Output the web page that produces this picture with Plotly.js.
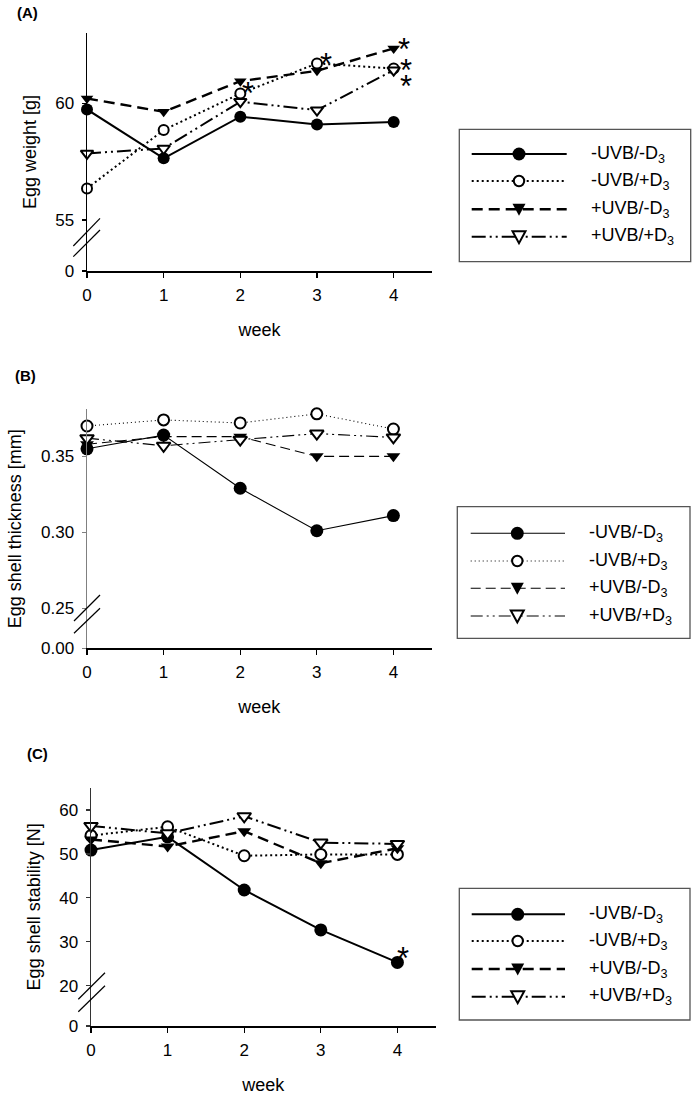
<!DOCTYPE html>
<html><head><meta charset="utf-8">
<script src="https://cdn.plot.ly/plotly-3.0.1.min.js"></script>
<style>html,body{margin:0;padding:0;background:#fff;} #chart{width:697px;height:1098px;}</style>
</head><body><div id="chart"></div>
<script>
// ---------- data ----------
const weeks = [0, 1, 2, 3, 4];
const seriesNames = ['-UVB/-D<sub>3</sub>', '-UVB/+D<sub>3</sub>', '+UVB/-D<sub>3</sub>', '+UVB/+D<sub>3</sub>'];

// (A) Egg weight [g]
const weightNoUVBNoD3   = [59.73, 57.64, 59.42, 59.09, 59.19];
const weightNoUVBPlusD3 = [56.35, 58.85, 60.41, 61.70, 61.48];
const weightUVBNoD3     = [60.20, 59.63, 60.94, 61.38, 62.34];
const weightUVBPlusD3   = [57.85, 58.06, 60.06, 59.70, 61.41];

// (B) Egg shell thickness [mm]
const thickNoUVBNoD3   = [0.355, 0.364, 0.329, 0.301, 0.311];
const thickNoUVBPlusD3 = [0.370, 0.374, 0.372, 0.378, 0.368];
const thickUVBNoD3     = [0.358, 0.363, 0.363, 0.350, 0.350];
const thickUVBPlusD3   = [0.362, 0.357, 0.361, 0.365, 0.3625];

// (C) Egg shell stability [N]
const stabNoUVBNoD3   = [50.9, 53.9, 41.8, 32.7, 25.3];
const stabNoUVBPlusD3 = [54.2, 56.2, 49.6, 49.9, 49.9];
const stabUVBNoD3     = [53.3, 51.7, 55.2, 47.9, 51.3];
const stabUVBPlusD3   = [56.4, 54.7, 58.6, 52.6, 52.3];

// tick labels (broken y axes: lowest label is the "0" below the break)
const weekTickLabels   = ['0', '1', '2', '3', '4'];
const weightTickValues = [55, 60];
const weightTickLabels = ['0', '55', '60'];
const thickTickValues  = [0.25, 0.30, 0.35];
const thickTickLabels  = ['0.00', '0.25', '0.30', '0.35'];
const stabTickValues   = [20, 30, 40, 50, 60];
const stabTickLabels   = ['0', '20', '30', '40', '50', '60'];

// significance marks (*): week and series index
const sigWeightWeek   = [2, 3, 4, 4, 4];
const sigWeightSeries = [1, 1, 2, 1, 3];
const sigStabWeek     = [4];
const sigStabSeries   = [0];

// ---------- layout helpers ----------
const W = 697, H = 1098;
const px = v => v / W;
const py = v => 1 - v / H;
const FONT = 'Liberation Sans, Arial, Helvetica, sans-serif';

const panels = [
  { label: '(A)', labelPos: [15, 13], xa: 'x', ya: 'y', title: 'Egg weight [g]',
    series: [weightNoUVBNoD3, weightNoUVBPlusD3, weightUVBNoD3, weightUVBPlusD3],
    xDom: [87, 432], yDom: [33, 271], yRange: [52.82, 63.0], breakBase: 52.82,
    tickVals: weightTickValues, tickText: weightTickLabels,
    lw: 2, yLineColor: '#000', sigWeek: sigWeightWeek, sigSeries: sigWeightSeries,
    sigShift: [[8, 0], [9, -1], [10, -1], [12, -2], [12, -16]],
    breaks: [[73.3, 246, 100, 218.3], [73.3, 256.7, 100, 230]],
    legend: { top: 129.3, bottom: 261.7, left: 459.3, right: 690.7, rows: [154, 181, 209.3, 236.7], l0: 471.7, l1: 566.7, m: 519, t: 589 },
    dashes: ['solid', '2px,3px', '11px,6px', '14px,4px,2px,4px,2px,4px'], msize: 12 },
  { label: '(B)', labelPos: [13, 375], xa: 'x2', ya: 'y2', title: 'Egg shell thickness [mm]',
    series: [thickNoUVBNoD3, thickNoUVBPlusD3, thickUVBNoD3, thickUVBPlusD3],
    xDom: [87, 431.7], yDom: [409.3, 648.3], yRange: [0.2236, 0.381], breakBase: 0.2236,
    tickVals: thickTickValues, tickText: thickTickLabels,
    lw: 1.1, yLineColor: '#808080', sigWeek: [], sigSeries: [], sigShift: [],
    breaks: [[74, 621, 100, 595], [74, 633.3, 100, 608.3]],
    legend: { top: 506.7, bottom: 638.3, left: 457.3, right: 690, rows: [533.3, 561, 588.3, 616], l0: 470.7, l1: 565, m: 517.3, t: 586.7 },
    dashes: ['solid', '1px,3px', '10px,5px', '12px,4px,2px,4px,2px,4px'], msize: 13 },
  { label: '(C)', labelPos: [25, 753], xa: 'x3', ya: 'y3', title: 'Egg shell stability [N]',
    series: [stabNoUVBNoD3, stabNoUVBPlusD3, stabUVBNoD3, stabUVBPlusD3],
    xDom: [91, 435.7], yDom: [787.7, 1026], yRange: [10.82, 65.1], breakBase: 10.82,
    tickVals: stabTickValues, tickText: stabTickLabels,
    lw: 2, yLineColor: '#333', sigWeek: sigStabWeek, sigSeries: sigStabSeries,
    sigShift: [[6, 4]],
    breaks: [[78.3, 999.3, 105, 972.7], [78.3, 1011.7, 105, 985.7]],
    legend: { top: 888.3, bottom: 1020, left: 459.3, right: 690, rows: [914.3, 941, 969, 996.7], l0: 471.7, l1: 565, m: 517.7, t: 586.7 },
    dashes: ['solid', '2px,3px', '11px,6px', '14px,4px,2px,4px,2px,4px'], msize: 13 }
];

const symbols = ['circle', 'circle', 'triangle-down', 'triangle-down'];
const fills = ['#000', '#fff', '#000', '#fff'];

const traces = [];
const shapes = [];
const annotations = [];
const layout = {
  width: W, height: H, margin: { l: 0, r: 0, t: 0, b: 0 },
  paper_bgcolor: '#fff', plot_bgcolor: 'rgba(0,0,0,0)',
  font: { family: FONT, color: '#000', size: 17 },
  showlegend: false,
  shapes: shapes, annotations: annotations
};

panels.forEach((p, pi) => {
  const axSuffix = pi === 0 ? '' : String(pi + 1);
  // traces
  p.series.forEach((vals, si) => {
    traces.push({
      type: 'scatter', mode: 'lines+markers', name: seriesNames[si],
      x: weeks, y: vals, xaxis: p.xa, yaxis: p.ya, cliponaxis: false,
      line: { color: '#000', width: (si === 2 && p.lw > 1.5) ? p.lw + 0.4 : p.lw, dash: p.dashes[si] },
      marker: { symbol: symbols[si], size: (si >= 2 ? p.msize - 1 : (si === 1 ? p.msize - 2 : p.msize)), color: fills[si],
                line: { color: '#000', width: si % 2 === 1 ? 2 : 0 } }
    });
  });
  // axes
  layout['xaxis' + axSuffix] = {
    domain: [px(p.xDom[0]), px(p.xDom[1])], anchor: p.ya, range: [0, 4.5],
    tickvals: weeks, ticktext: weekTickLabels, ticks: 'outside', ticklen: 5, tickwidth: 1.2, tickcolor: '#000',
    ticklabelstandoff: 3,
    showline: true, linecolor: '#000', linewidth: 1.5, showgrid: false, zeroline: false,
    tickfont: { size: 17, family: FONT },
    title: { text: 'week', font: { size: 18, family: FONT }, standoff: 19 }
  };
  layout['yaxis' + axSuffix] = {
    domain: [py(p.yDom[1]), py(p.yDom[0])], anchor: p.xa, range: p.yRange,
    tickvals: [p.breakBase].concat(p.tickVals), ticktext: p.tickText,
    ticks: 'outside', ticklen: 4, tickwidth: 1.2, tickcolor: p.yLineColor,
    ticklabelstandoff: 4,
    showline: true, linecolor: p.yLineColor, linewidth: 1.5, showgrid: false, zeroline: false,
    tickfont: { size: 17, family: FONT },
    title: { text: p.title, font: { size: 18, family: FONT }, standoff: 14 }
  };
  // panel label
  annotations.push({ xref: 'paper', yref: 'paper', x: px(p.labelPos[0]), y: py(p.labelPos[1]),
    xanchor: 'left', yanchor: 'middle', showarrow: false, text: '<b>' + p.label + '</b>',
    font: { size: 15, family: FONT } });
  // axis break marks
  p.breaks.forEach(b => shapes.push({ type: 'line', xref: 'paper', yref: 'paper',
    x0: px(b[0]), y0: py(b[1]), x1: px(b[2]), y1: py(b[3]), line: { color: '#000', width: 1.2 } }));
  // significance asterisks
  p.sigWeek.forEach((wk, k) => {
    const s = p.sigSeries[k];
    annotations.push({ xref: p.xa, yref: p.ya, x: wk, y: p.series[s][weeks.indexOf(wk)],
      xshift: p.sigShift[k][0], yshift: p.sigShift[k][1], showarrow: false, text: '*',
      font: { size: 31, family: FONT } });
  });
  // legend box
  const L = p.legend;
  shapes.push({ type: 'rect', xref: 'paper', yref: 'paper', x0: px(L.left), x1: px(L.right),
    y0: py(L.bottom), y1: py(L.top), line: { color: '#555', width: 1.3 }, fillcolor: 'rgba(0,0,0,0)' });
  seriesNames.forEach((nm, si) => {
    const ry = L.rows[si];
    shapes.push({ type: 'line', xref: 'paper', yref: 'paper', x0: px(L.l0), x1: px(L.l1), y0: py(ry), y1: py(ry),
      line: { color: '#000', width: (si === 2 && p.lw > 1.5) ? p.lw + 0.4 : p.lw, dash: p.dashes[si] } });
    if (symbols[si] === 'circle') {
      const r = si === 0 ? 6.5 : 5.2;
      shapes.push({ type: 'circle', xref: 'paper', yref: 'paper', xsizemode: 'pixel', ysizemode: 'pixel',
        xanchor: px(L.m), yanchor: py(ry), x0: -r, x1: r, y0: -r, y1: r,
        fillcolor: fills[si], line: { color: '#000', width: si === 1 ? 2 : 0 } });
    } else {
      shapes.push({ type: 'path', xref: 'paper', yref: 'paper', xsizemode: 'pixel', ysizemode: 'pixel',
        xanchor: px(L.m), yanchor: py(ry), path: 'M-6.5,5.5L6.5,5.5L0,-6.5Z',
        fillcolor: fills[si], line: { color: '#000', width: si === 3 ? 2 : 0 } });
    }
    annotations.push({ xref: 'paper', yref: 'paper', x: px(L.t), y: py(ry), xanchor: 'left', yanchor: 'middle',
      showarrow: false, text: nm, font: { size: 18, family: FONT } });
  });
});

Plotly.newPlot('chart', traces, layout, { staticPlot: true, displayModeBar: false });
</script>
</body></html>
